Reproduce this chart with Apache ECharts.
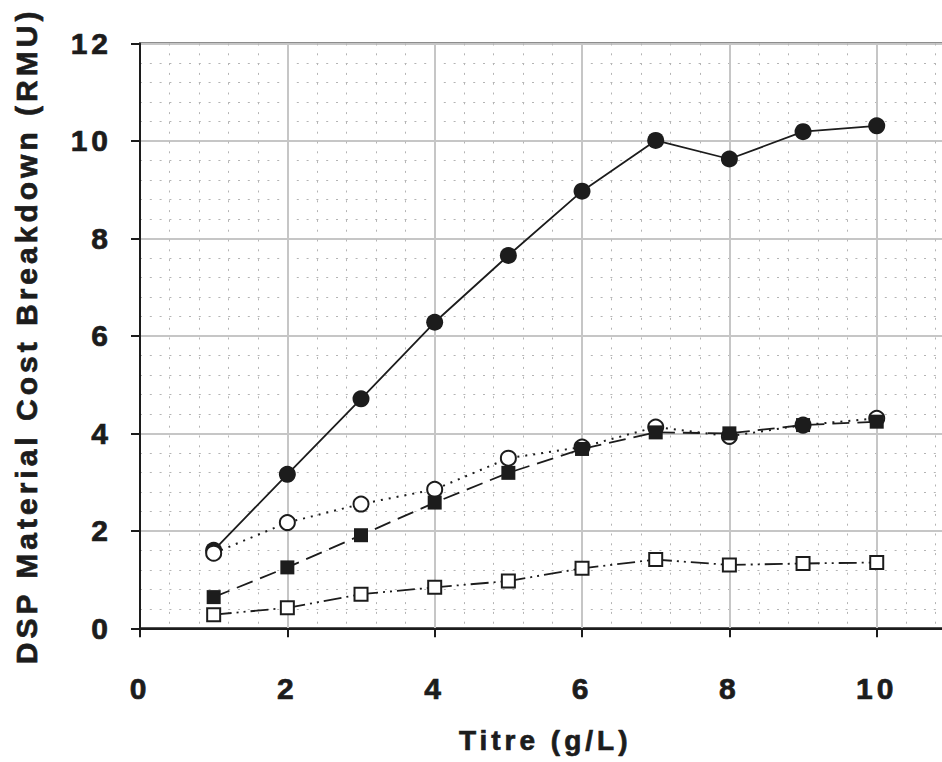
<!DOCTYPE html>
<html>
<head>
<meta charset="utf-8">
<script src="https://cdn.jsdelivr.net/npm/echarts@6/dist/echarts.min.js"></script>
<style>
  html, body { margin: 0; padding: 0; background: #fff; }
  #chart { width: 942px; height: 762px; letter-spacing: 4px; }
</style>
</head>
<body>
<div id="chart"></div>
<script>
// Titre (g/L) on x, DSP material cost components (RMU) on y
const titre = [1, 2, 3, 4, 5, 6, 7, 8, 9, 10];
const seriesA = [1.60, 3.16, 4.71, 6.28, 7.65, 8.97, 10.01, 9.63, 10.19, 10.31]; // filled circles, solid
const seriesB = [1.54, 2.17, 2.55, 2.85, 3.49, 3.72, 4.13, 3.94, 4.17, 4.31];   // open circles, dotted
const seriesC = [0.64, 1.25, 1.91, 2.58, 3.19, 3.68, 4.02, 4.00, 4.17, 4.24];   // filled squares, dashed
const seriesD = [0.28, 0.42, 0.70, 0.84, 0.97, 1.23, 1.41, 1.30, 1.33, 1.35];   // open squares, dash-dot-dot

const xTicks = [0, 2, 4, 6, 8, 10];
const yTicks = [0, 2, 4, 6, 8, 10, 12];

const ink = '#1c1c1c';
const fontFamily = '"Liberation Sans", Arial, Helvetica, sans-serif';
const heavy = { fontFamily, fontWeight: 'bold', color: ink, textBorderColor: ink, textBorderWidth: 0.7 };

function pairs(ys) { return titre.map((x, i) => [x, ys[i]]); }

const chart = echarts.init(document.getElementById('chart'), null, { renderer: 'svg' });

const minorGrid = { show: true, lineStyle: { color: '#b4b4b4', width: 1, type: [2, 7.8] } };
const majorGrid = { show: true, lineStyle: { color: '#c6c6c6', width: 2, type: 'solid' } };

chart.setOption({
  animation: false,
  backgroundColor: '#fff',
  grid: {
    left: 140, top: 43.5, bottom: 133.7, right: -8.4,
    outerBoundsMode: 'none', containLabel: false,
    show: true, borderColor: ink, borderWidth: 2, backgroundColor: 'transparent'
  },
  xAxis: {
    type: 'value', min: 0, max: 11, interval: 2,
    name: 'Titre (g/L)', nameLocation: 'middle', nameGap: 98,
    nameTextStyle: Object.assign({ fontSize: 28 }, heavy),
    axisLine: { show: true, lineStyle: { color: ink, width: 2 } },
    axisTick: { show: true, length: 9, inside: false, lineStyle: { color: ink, width: 2 } },
    axisLabel: Object.assign({
      showMaxLabel: false, margin: 45, fontSize: 30,
      formatter: v => (xTicks.includes(v) ? String(v) : '')
    }, heavy),
    splitLine: majorGrid,
    minorTick: { show: false, splitNumber: 5 },
    minorSplitLine: minorGrid
  },
  yAxis: {
    type: 'value', min: 0, max: 12, interval: 2,
    name: 'DSP Material Cost Breakdown (RMU)', nameLocation: 'middle', nameGap: 99, nameRotate: 90,
    nameTextStyle: Object.assign({ fontSize: 30 }, heavy),
    axisLine: { show: true, lineStyle: { color: ink, width: 2 } },
    axisTick: { show: true, length: 9, inside: false, lineStyle: { color: ink, width: 2 } },
    axisLabel: Object.assign({
      margin: 28, fontSize: 30,
      formatter: v => (yTicks.includes(v) ? String(v) : '')
    }, heavy),
    splitLine: majorGrid,
    minorTick: { show: false, splitNumber: 5 },
    minorSplitLine: minorGrid
  },
  series: [
    {
      type: 'line', data: pairs(seriesA), symbol: 'circle', symbolSize: 17,
      lineStyle: { color: ink, width: 1.8, type: 'solid' },
      itemStyle: { color: ink, borderColor: ink, borderWidth: 0 }, z: 3
    },
    {
      type: 'line', data: pairs(seriesB), symbol: 'circle', symbolSize: 15,
      lineStyle: { color: ink, width: 2, type: [2, 6] },
      itemStyle: { color: '#fff', borderColor: ink, borderWidth: 2 }, z: 4
    },
    {
      type: 'line', data: pairs(seriesC), symbol: 'rect', symbolSize: 14,
      lineStyle: { color: ink, width: 1.8, type: [17, 8] },
      itemStyle: { color: ink, borderColor: ink, borderWidth: 0 }, z: 5
    },
    {
      type: 'line', data: pairs(seriesD), symbol: 'rect', symbolSize: 13,
      lineStyle: { color: ink, width: 1.8, type: [18, 5, 2, 5, 2, 5] },
      itemStyle: { color: '#fff', borderColor: ink, borderWidth: 2 }, z: 6
    }
  ]
});
</script>
</body>
</html>
